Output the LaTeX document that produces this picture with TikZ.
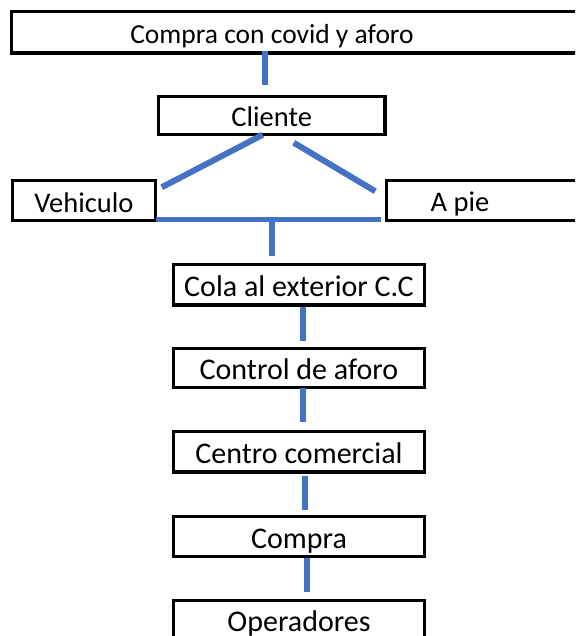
\documentclass[tikz,border=0pt]{standalone}
\usepackage{fontspec}
\setmainfont{Carlito}
\usetikzlibrary{calc}
\definecolor{lineblue}{HTML}{4472C4}
\begin{document}
\begin{tikzpicture}[x=1pt,y=-1pt,
  fs/.style={font=\fontsize{#1}{#1}\selectfont},
  box/.style={draw=black, line width=3.5pt, inner sep=0pt, minimum height=40pt,
    text height=23pt, text depth=0pt, fs=30},
  lbl/.style={anchor=base, inner sep=0pt, fs=28.5},
  conn/.style={draw=lineblue, line width=6.5pt},
  diag/.style={draw=lineblue, line width=6pt},
  hbar/.style={draw=lineblue, line width=5pt}]
\clip (0,0) rectangle (575,636);
\fill[white] (0,0) rectangle (575,636);
% boxes
\node[box, minimum width=608.5pt, minimum height=41.5pt] (top) at (315.75,32.25) {};
\node[lbl, fs=27.5] (toptext) at (272,44) {Compra con covid y aforo};
\node[box, fs=28.5, minimum width=226.5pt, minimum height=38pt] (cliente) at (271.75,115.5) {Cliente};
\node[box, fs=28.5, minimum width=143pt] (vehiculo) at (84,200.5) {Vehiculo};
\node[box, minimum width=233.5pt] (apie) at (503.25,200.5) {};
\node[lbl] (apietext) at (460,211.5) {A pie};
\node[box, minimum width=251pt, minimum height=40.5pt] (cola) at (299,284.75) {Cola al exterior C.C};
\node[box, minimum width=251pt, minimum height=39pt] (control) at (299,368) {Control de aforo};
\node[box, minimum width=251pt, minimum height=40.5pt] (centro) at (299,451.75) {Centro comercial};
\node[box, minimum width=251pt] (compra) at (299,536.5) {Compra};
\node[box, minimum width=251pt] (operadores) at (299,620.5) {};
\node[lbl, fs=30] (optext) at (299,631.7) {Operadores};
% connectors
\draw[conn] ($(cliente.north |- top.south)+(-7,-4)$) -- ($(cliente.north)+(-7,-9.5)$);
\draw[diag] ($(cliente.south)+(-9,-1.5)$) -- ($(vehiculo.north east)+(4.5,8.5)$);
\draw[diag] ($(cliente.south)+(22,6.5)$) -- ($(apie.north west)+(-9.5,12.5)$);
\draw[hbar] ($(vehiculo.south east)+(-1.5,-2.5)$) -- ($(apie.south west)+(-3.5,-2.5)$);
\draw[conn] ($(cliente.center |- vehiculo.south)+(0,-2.5)$) -- ($(cliente.center |- cola.north)+(0,-6.5)$);
\draw[conn] ($(cola.south)+(4,0)$) -- ($(control.north)+(4,-5.5)$);
\draw[conn] ($(control.south)+(4,-1.5)$) -- ($(centro.north)+(4,-7.5)$);
\draw[conn] ($(centro.south)+(6,2)$) -- ($(compra.north)+(6,-4.5)$);
\draw[conn] ($(compra.south)+(8,-0.5)$) -- ($(operadores.north)+(8,-6.5)$);
\end{tikzpicture}
\end{document}
